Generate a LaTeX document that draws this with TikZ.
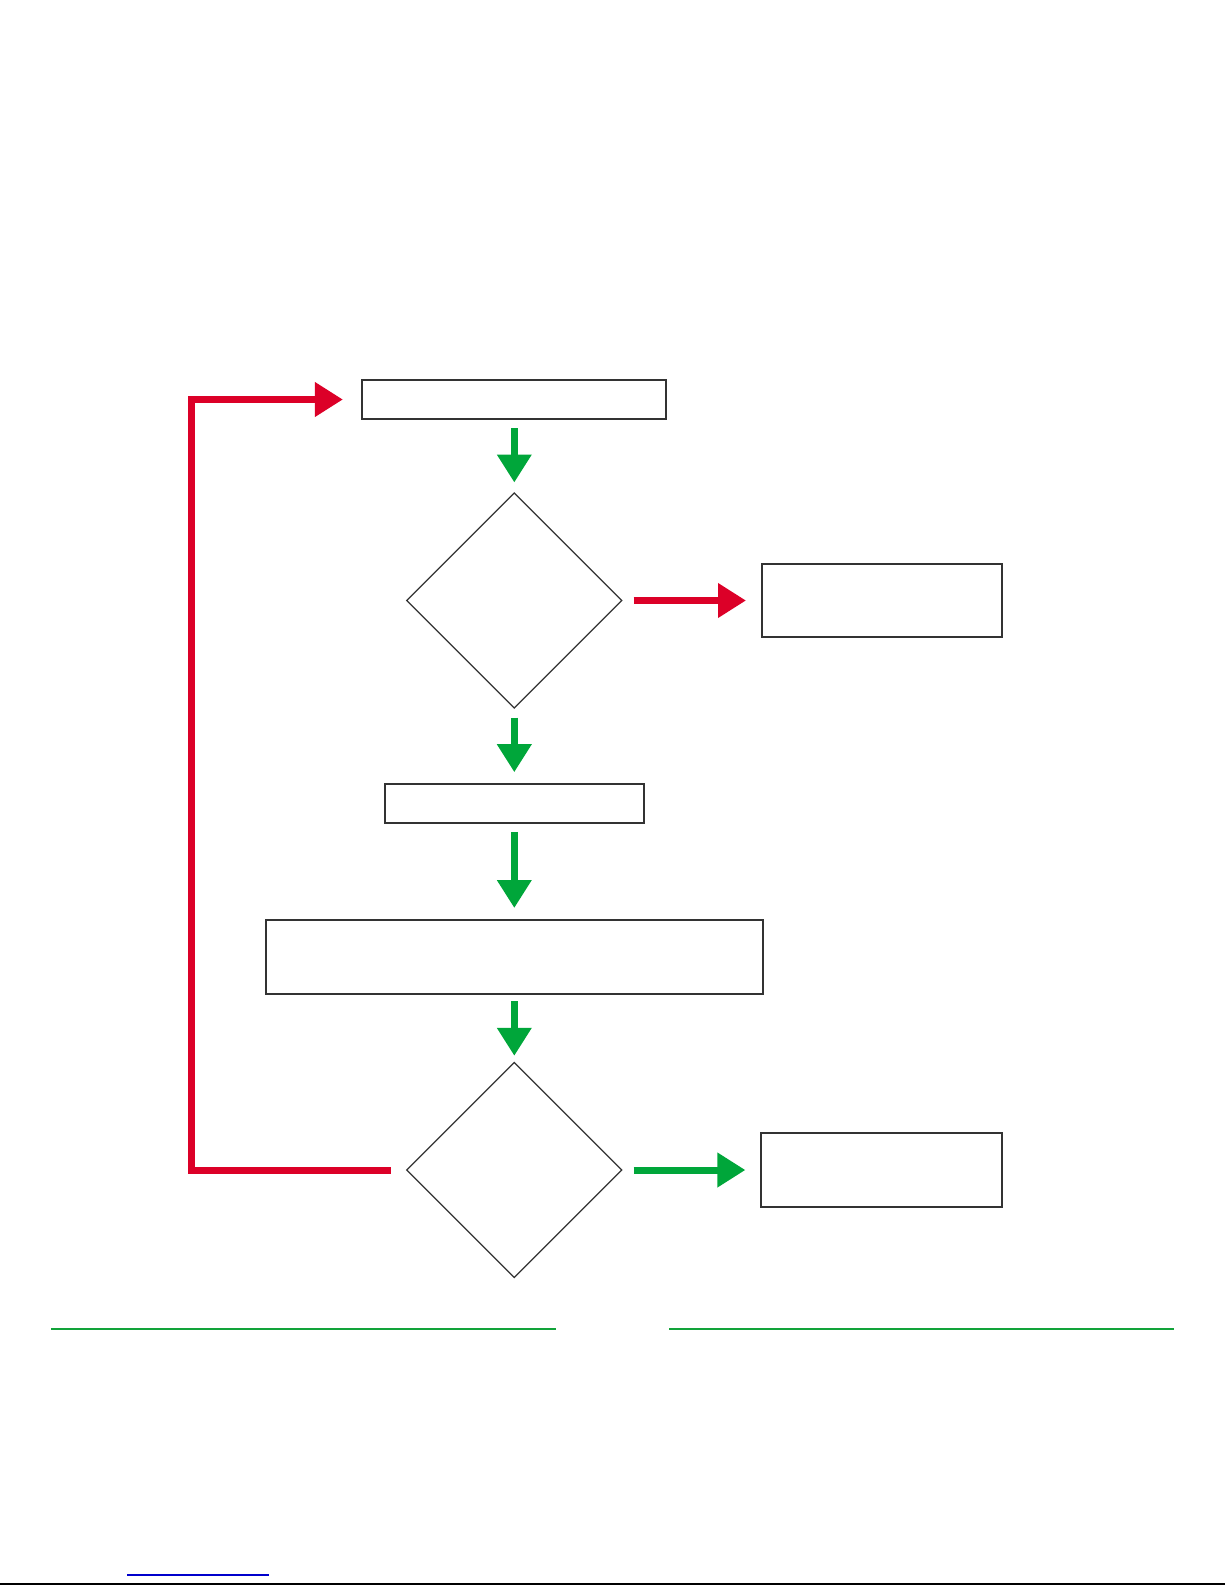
\documentclass[tikz,border=0pt]{standalone}
\usetikzlibrary{shapes.geometric,arrows.meta}
\definecolor{flowred}{HTML}{DC0028}
\definecolor{flowgreen}{HTML}{00A63A}
\definecolor{rulegreen}{HTML}{12A33A}
\definecolor{boxgray}{HTML}{333333}
\definecolor{linkblue}{HTML}{0000CC}
\tikzset{
  stepbox/.style={draw=boxgray, line width=2pt, rectangle, inner sep=0pt, outer sep=0pt},
  decide/.style={draw=boxgray, line width=1.3pt, diamond, aspect=1, inner sep=0pt, outer sep=0pt,
    minimum width=215pt, minimum height=215pt},
  garrow/.style={draw=flowgreen, line width=7pt, -{Triangle[length=28pt,width=33pt]}},
  rarrow/.style={draw=flowred, line width=7pt, -{Triangle[length=28pt,width=33pt]}},
  rulegreenline/.style={draw=rulegreen, line width=2pt},
}
\begin{document}
\begin{tikzpicture}[x=1pt,y=-1pt]
\useasboundingbox (0,0) rectangle (1225,1585);
\fill[white] (0,0) rectangle (1225,1585);

% nodes
\node[stepbox, minimum width=304pt, minimum height=39pt] (b1) at (514.3,399.5) {};
\node[decide] (d1) at (514.3,600.5) {};
\node[stepbox, minimum width=240pt, minimum height=73pt] (r1) at (882,600.5) {};
\node[stepbox, minimum width=259pt, minimum height=39pt] (b2) at (514.3,803.4) {};
\node[stepbox, minimum width=497pt, minimum height=74pt] (b3) at (514.3,957) {};
\node[decide] (d2) at (514.3,1170) {};
\node[stepbox, minimum width=241pt, minimum height=74pt] (r2) at (881.6,1170) {};
\coordinate (loopx) at (191.7,0);

% connectors
\draw[garrow, shorten <=9pt, shorten >=10.5pt] (b1.south) -- (d1.north);
\draw[rarrow, shorten <=11.7pt, shorten >=16pt] (d1.east) -- (r1.west);
\draw[garrow, shorten <=9.5pt, shorten >=11.7pt] (d1.south) -- (b2.north);
\draw[garrow, shorten <=9pt, shorten >=12pt] (b2.south) -- (b3.north);
\draw[garrow, shorten <=7pt, shorten >=6.7pt] (b3.south) -- (d2.north);
\draw[garrow, shorten <=11.7pt, shorten >=15.7pt] (d2.east) -- (r2.west);
\draw[rarrow, shorten <=16pt, shorten >=19.4pt] (d2.west) -- (d2.west -| loopx) |- (b1.west);

% page rules
\draw[rulegreenline] (51,1329) -- (556,1329);
\draw[rulegreenline] (669,1329) -- (1174,1329);
\draw[draw=linkblue, line width=1.2pt] (127,1575) -- (269,1575);
\draw[draw=black, line width=2.4pt] (0,1584) -- (1225,1584);
\end{tikzpicture}
\end{document}
